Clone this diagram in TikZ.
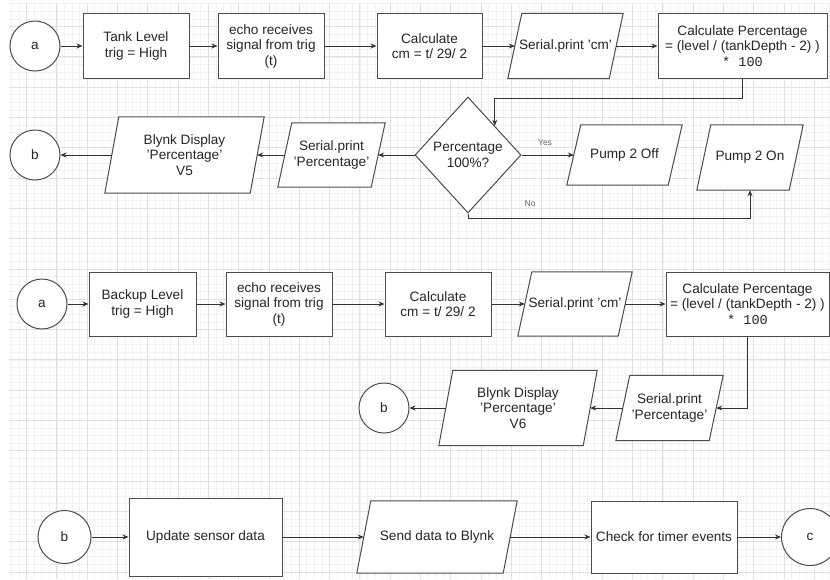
\documentclass[tikz,border=0pt]{standalone}
\usepackage{fontspec}
\setmainfont{Liberation Sans}
\newfontfamily\codefont{Liberation Mono}
\usetikzlibrary{shapes.geometric,arrows.meta,backgrounds}

\begin{document}
\begin{tikzpicture}[x=1pt,y=-1pt,
  font=\fontsize{13.6}{15.5}\selectfont]

  % One unit = one pixel of the sketch, y grows downwards
  \useasboundingbox (0,0) rectangle (830,579);

  \tikzset{
    gridminor/.style={draw=black!5, line width=0.6pt},
    gridmajor/.style={draw=black!12, line width=0.7pt},
    proc/.style={draw=black!70, line width=1pt, fill=white, rectangle,
      align=center, minimum height=65pt, inner sep=2pt, text=black!85},
    % parallelogram: the node is the box through the middles of the
    % slanted sides, the outline goes on the background layer
    io/.style={rectangle, align=center, minimum height=65pt, inner sep=1pt,
      text=black!85,
      append after command={\pgfextra{\let\ionode\tikzlastnode
        \begin{pgfonlayer}{background}
          \filldraw[draw=black!70, fill=white, line width=1pt]
            ([xshift=7pt]\ionode.north west) -- ([xshift=7pt]\ionode.north east)
            -- ([xshift=-7pt]\ionode.south east) -- ([xshift=-7pt]\ionode.south west)
            -- cycle;
        \end{pgfonlayer}}}},
    conn/.style={draw=black!70, line width=1pt, fill=white, circle,
      minimum size=50pt, inner sep=0pt, text=black!85},
    decide/.style={draw=black!70, line width=1pt, fill=white, diamond,
      minimum width=106pt, minimum height=116pt, inner sep=0pt,
      align=center, text=black!85},
    flow/.style={draw=black!80, line width=0.8pt,
      -{Stealth[length=6pt,width=5pt]}},
    tag/.style={font=\fontsize{8.5}{10}\selectfont, text=black!60}
  }

  % Background grid: light minor lines, darker every fourth
  \begin{pgfonlayer}{background}
    \fill[white] (0,0) rectangle (830,579);
    \foreach \i in {-2,...,106}
      \draw[gridminor] ({26.5+7.575*\i},3) -- ({26.5+7.575*\i},579);
    \foreach \j in {-3,...,72}
      \draw[gridminor] (9,{26.5+7.575*\j}) -- (830,{26.5+7.575*\j});
    \foreach \i in {0,...,26}
      \draw[gridmajor] ({26.5+30.3*\i},3) -- ({26.5+30.3*\i},579);
    \foreach \j in {0,...,18}
      \draw[gridmajor] (9,{26.5+30.3*\j}) -- (830,{26.5+30.3*\j});
  \end{pgfonlayer}

  % Tank sensor, first row
  \node[conn] (a1) at (35,46) {a};
  \node[proc, minimum width=106pt] (tank) at (136,46) {Tank Level\\trig = High};
  \node[proc, minimum width=106pt] (echo1) at (271,46) {echo receives\\signal from trig\\(t)};
  \node[proc, minimum width=105pt] (calc1) at (429.5,46) {Calculate\\cm = t/ 29/ 2};
  \node[io, minimum width=101pt] (scm1) at (565.5,46) {Serial.print 'cm'};
  \node[proc, minimum width=169pt] (pct1) at (742.5,46)
    {Calculate Percentage\\= (level / (tankDepth - 2) )\\{\codefont * 100}};

  % Tank sensor, second row
  \node[decide] (full1) at (468,155) {Percentage\\100\%?};
  \node[io, minimum width=101pt, minimum height=60pt] (off) at (624.5,155) {Pump 2 Off};
  \node[io, minimum width=92pt] (on) at (750,157.5) {Pump 2 On};
  \node[io, minimum width=93pt, minimum height=64pt] (sp1) at (331.5,155) {Serial.print\\'Percentage'};
  \node[io, minimum width=145pt, minimum height=76pt] (bd1) at (184.5,155) {Blynk Display\\'Percentage'\\V5};
  \node[conn] (b1) at (35,155) {b};

  \draw[flow] (a1) -- (tank);
  \draw[flow] (tank) -- (echo1);
  \draw[flow] (echo1) -- (calc1);
  \draw[flow] (calc1) -- (scm1);
  \draw[flow] (scm1) -- (pct1);
  \draw[flow] (pct1.south) -- ++(0,19) -| (full1.north east);
  \draw[flow] (full1) -- node[tag, above=6pt, pos=0.45] {Yes} (off);
  \draw[flow] (full1.south) -- ++(0,5) -| node[tag, above=8pt, pos=0.11] {No} (on.south);
  \draw[flow] (full1) -- (sp1);
  \draw[flow] (sp1) -- (bd1);
  \draw[flow] (bd1) -- (b1);

  % Backup sensor
  \node[conn] (a2) at (42,304) {a};
  \node[proc, minimum width=107pt, minimum height=64pt] (backup) at (142.5,304) {Backup Level\\trig = High};
  \node[proc, minimum width=106pt, minimum height=64pt] (echo2) at (279,304) {echo receives\\signal from trig\\(t)};
  \node[proc, minimum width=106pt, minimum height=64pt] (calc2) at (438,304) {Calculate\\cm = t/ 29/ 2};
  \node[io, minimum width=100pt, minimum height=64pt] (scm2) at (575,304) {Serial.print 'cm'};
  \node[proc, minimum width=163pt, minimum height=64pt] (pct2) at (747.5,304)
    {Calculate Percentage\\= (level / (tankDepth - 2) )\\{\codefont * 100}};
  \node[io, minimum width=93pt] (sp2) at (669.5,408) {Serial.print\\'Percentage'};
  \node[io, minimum width=144pt, minimum height=75pt] (bd2) at (518,408) {Blynk Display\\'Percentage'\\V6};
  \node[conn] (b2) at (384,408) {b};

  \draw[flow] (a2) -- (backup);
  \draw[flow] (backup) -- (echo2);
  \draw[flow] (echo2) -- (calc2);
  \draw[flow] (calc2) -- (scm2);
  \draw[flow] (scm2) -- (pct2);
  \draw[flow] (pct2.south) |- (sp2.east);
  \draw[flow] (sp2) -- (bd2);
  \draw[flow] (bd2) -- (b2);

  % Main loop
  \node[conn, minimum size=53pt] (b3) at (64.5,537) {b};
  \node[proc, minimum width=153pt, minimum height=78pt] (upd) at (205.5,537) {Update sensor data};
  \node[io, minimum width=146pt, minimum height=72pt] (send) at (437,537) {Send data to Blynk};
  \node[proc, minimum width=146pt, minimum height=72pt] (chk) at (664,537) {Check for timer events};
  \node[conn, minimum size=57pt] (c1) at (810,537) {c};

  \draw[flow] (b3) -- (upd);
  \draw[flow] (upd) -- (send);
  \draw[flow] (send) -- (chk);
  \draw[flow] (chk) -- (c1);

\end{tikzpicture}
\end{document}
